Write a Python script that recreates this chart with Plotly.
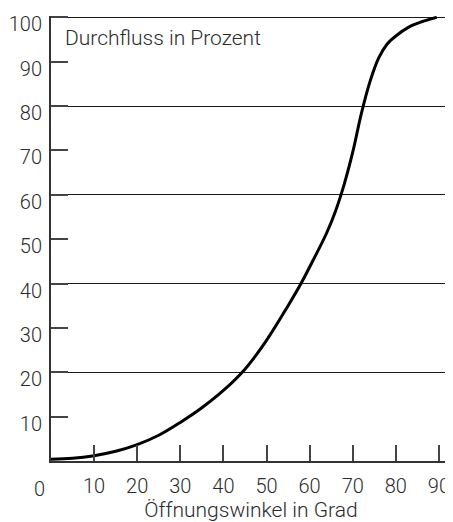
import plotly.graph_objects as go

# Öffnungswinkel (Grad) und Durchfluss (Prozent)
winkel = [0, 5, 10, 15, 20, 25, 30, 35, 40, 45, 50, 55, 58, 61, 64, 66, 68, 70, 72, 74, 76, 78, 80, 83, 86, 89.5]
durchfluss = [0.4, 0.6, 1.2, 2.2, 3.7, 5.8, 8.7, 12.0, 15.9, 20.7, 27.2, 35.0, 40.0, 45.6, 51.5, 56.3, 62.3,
              69.6, 78.3, 85.5, 90.8, 94.0, 95.8, 97.8, 99.0, 100.0]

x_ticks = [10, 20, 30, 40, 50, 60, 70, 80, 90]
y_ticks = [10, 20, 30, 40, 50, 60, 70, 80, 90, 100]
y_grid = [20, 40, 60, 80, 100]

FONT = "Roboto"
TXT = "#2b2b2b"

fig = go.Figure()

fig.add_trace(
    go.Scatter(x=winkel,
               y=durchfluss,
               mode='lines',
               line=dict(color='black', width=3, shape='spline', smoothing=1),
               showlegend=False,
               hoverinfo='skip',
               )
)

# unsichtbare Kopie, damit die zweite y-Achse (Gitterlinien) gezeichnet wird
fig.add_trace(
    go.Scatter(x=winkel, y=durchfluss, yaxis='y2', mode='lines',
               line=dict(width=0), opacity=0, showlegend=False, hoverinfo='skip')
)

fig.update_layout(
    font=dict(family=FONT, size=20, color=TXT, weight=300),
    plot_bgcolor='white',
    paper_bgcolor='white',
    xaxis=dict(range=[0, 92.8],
               tickmode='array',
               tickvals=x_ticks,
               ticks='inside',
               ticklen=16,
               tickwidth=1.5,
               tickcolor='#444',
               showline=True,
               linecolor='#333',
               linewidth=2,
               showgrid=False,
               zeroline=False,
               automargin=False,
               ticklabelstandoff=6,
               title=dict(text='Öffnungswinkel in Grad', standoff=7,
                          font=dict(family=FONT, size=21, color=TXT, weight=300)),
               ),
    yaxis=dict(range=[0, 100.3],
               tickmode='array',
               tickvals=y_ticks,
               ticks='inside',
               ticklen=17,
               tickwidth=1.5,
               tickcolor='#444',
               showline=True,
               linecolor='#333',
               linewidth=2,
               showgrid=False,
               zeroline=False,
               automargin=False,
               ticklabelstandoff=3,
               ticklabelshift=7,
               ),
    yaxis2=dict(range=[0, 100.3],
                overlaying='y',
                tickmode='array',
                tickvals=y_grid,
                showgrid=True,
                gridcolor='#1a1a1a',
                gridwidth=1,
                showticklabels=False,
                ticks='',
                showline=False,
                zeroline=False,
                automargin=False,
                ),
    # die Seite hat 8 px Rand, daher etwas kleiner
    margin=dict(l=43, r=2, t=8, b=61, pad=0),
    width=445,
    height=514,
)

fig.add_annotation(text='Durchfluss in Prozent', xref='paper', yref='paper', x=0, y=1,
                   xanchor='left', yanchor='top', xshift=12, yshift=-8, showarrow=False,
                   font=dict(family=FONT, size=21, color=TXT, weight=300))

fig.add_annotation(text='0', xref='x', yref='paper', x=0, y=0,
                   xanchor='center', yanchor='top', xshift=-12, yshift=-14, showarrow=False,
                   font=dict(family=FONT, size=20, color=TXT, weight=300))

fig.write_html("out.html")
